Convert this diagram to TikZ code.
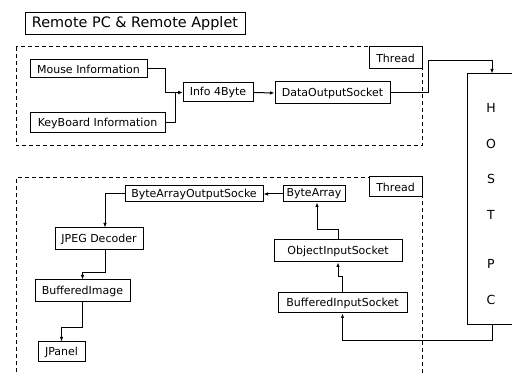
\documentclass[tikz,border=0pt]{standalone}
\usepackage{fontspec}
\setmainfont{DejaVu Sans}
\usetikzlibrary{arrows.meta}
\tikzset{
  box/.style={draw, line width=1pt, inner sep=0pt, font=\fontsize{11}{12}\selectfont},
  titlebox/.style={draw, line width=1pt, inner sep=0pt, font=\fontsize{14.4}{16}\selectfont},
  frame/.style={line width=1pt, dash pattern=on 4pt off 3pt},
  arr/.style={line width=1pt, -{Latex[length=4.5pt,width=3.5pt]}},
  letter/.style={inner sep=0pt, font=\fontsize{12.5}{14}\selectfont}
}
\begin{document}
\begin{tikzpicture}[x=1pt, y=-1pt]
\useasboundingbox (0,0) rectangle (512,374);
\clip (0,0) rectangle (512,374);

% title
\node[titlebox, minimum width=220, minimum height=22] (title) at (135,24) {Remote PC \& Remote Applet};

% sending thread
\draw[frame] (16,47) rectangle (422,146);
\node[box, minimum width=53, minimum height=22, fill=white] (thr1) at (395.5,58) {Thread};
\node[box, minimum width=117, minimum height=18] (mouse) at (88.5,69) {Mouse Information};
\node[box, minimum width=135, minimum height=20] (kbd) at (97.5,123) {KeyBoard Information};
\node[box, minimum width=70, minimum height=19] (info) at (218,92.5) {Info 4Byte};
\node[box, minimum width=115, minimum height=22] (dout) at (332.5,93) {DataOutputSocket};

% host
\node[draw, line width=1pt, minimum width=78, minimum height=251, inner sep=0pt] (host) at (506,199.5) {};
\coordinate (hx) at (492,0);
\node[letter] (lh) at (491,108) {H};
\node[letter] (lo) at (491,144) {O};
\node[letter] (ls) at (491,179) {S};
\node[letter] (lt) at (491,215) {T};
\node[letter] (lp) at (491,264) {P};
\node[letter] (lc) at (491,300) {C};

% receiving thread
\draw[frame] (16,400) -- (16,178) -- (422,178) -- (422,400);
\node[box, minimum width=53, minimum height=20, fill=white] (thr2) at (395.5,187) {Thread};
\node[box, minimum width=138, minimum height=16] (baos) at (194,194) {ByteArrayOutputSocke};
\node[box, minimum width=62, minimum height=16] (barr) at (314,194) {ByteArray};
\node[box, minimum width=128, minimum height=22] (oin) at (338,251) {ObjectInputSocket};
\node[box, minimum width=129, minimum height=20] (bin) at (342.5,303) {BufferedInputSocket};
\node[box, minimum width=88, minimum height=22] (jpeg) at (99,239) {JPEG Decoder};
\node[box, minimum width=95, minimum height=22] (bimg) at (82.5,291) {BufferedImage};
\node[box, minimum width=47, minimum height=20] (jpan) at (61.5,352) {JPanel};

% connectors, sending side
\draw[arr] (mouse.east) -- ++(18,0) |- (info.west);
\draw[arr] (kbd.east) -- ++(10,0) |- (info.west);
\draw[arr] (info.east) -- (dout.west);
\draw[arr] (dout.east) -- ++(38,0) -- ++(0,-32) -| (host.north -| hx);

% connectors, receiving side
\draw[arr] (host.south -| hx) -- ++(0,15) -| (bin.south);
\draw[arr] (bin.north) -- ++(0,-16) -| (oin.south);
\draw[arr] (oin.north) -- ++(0,-10) -| ([xshift=3pt]barr.south);
\draw[arr] (barr.west) -- (baos.east);
\draw[arr] (baos.west) -| ([xshift=6pt]jpeg.north);
\draw[arr] ([xshift=6pt]jpeg.south) -- ++(0,22) -| (bimg.north);
\draw[arr] (bimg.south) -- ++(0,25) -| (jpan.north);
\end{tikzpicture}
\end{document}
